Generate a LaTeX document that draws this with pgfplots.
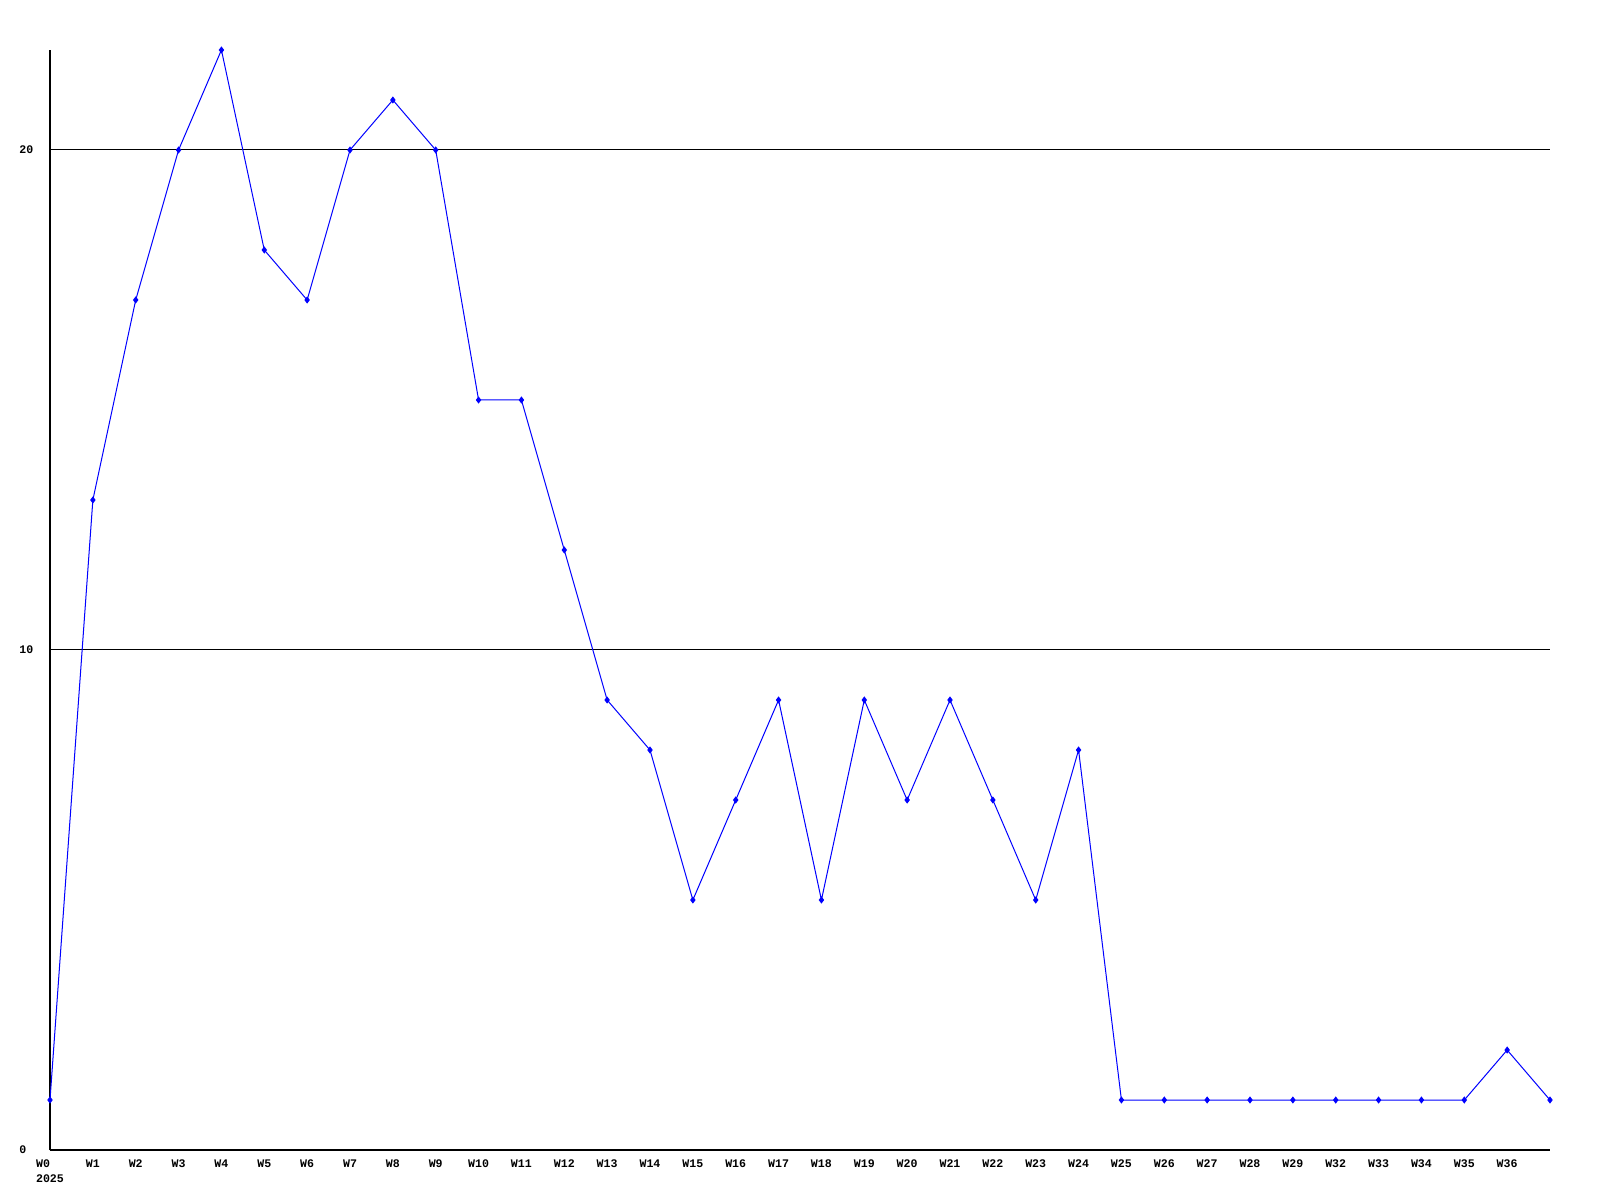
\documentclass[border=0pt]{standalone}
\usepackage{pgfplots}
\pgfplotsset{compat=1.18}
\usepackage{fontspec}
\setmainfont{Liberation Mono}
\begin{document}
\begin{tikzpicture}
\path[use as bounding box] (-25pt,-25pt) rectangle (775pt,575pt);
\begin{axis}[
  at={(0,0)}, anchor=south west,
  scale only axis, width=750pt, height=550pt,
  xmin=0, xmax=35, ymin=0, ymax=22,
  axis x line*=bottom, axis y line*=left,
  axis line style={black, line width=0.6pt, -},
  xtick={0,...,34},
  xticklabels={{W0\\2025},W1,W2,W3,W4,W5,W6,W7,W8,W9,W10,W11,W12,W13,W14,W15,W16,W17,W18,W19,W20,W21,W22,W23,W24,W25,W26,W27,W28,W29,W32,W33,W34,W35,W36},
  ytick={0,10,20}, yticklabels={0,10,20},
  major tick length=0pt,
  ymajorgrids, grid style={black, line width=0.5pt},
  xticklabel style={font=\fontsize{5.8}{7.5}\selectfont\bfseries, anchor=north, inner sep=0pt, yshift=-4.5pt, align=left},
  yticklabel style={font=\fontsize{5.8}{7.5}\selectfont\bfseries, anchor=west, inner sep=0pt, xshift=-15.5pt},
  /pgf/number format/assume math mode=true,
  clip=false,
]
\addplot[color={rgb,255:red,0;green,0;blue,255}, line width=0.5pt, mark=diamond*, mark size=1.4pt, mark options={fill={rgb,255:red,0;green,0;blue,255}}]
coordinates {
(0,1)(1,13)(2,17)(3,20)(4,22)(5,18)(6,17)(7,20)(8,21)(9,20)
(10,15)(11,15)(12,12)(13,9)(14,8)(15,5)(16,7)(17,9)(18,5)(19,9)
(20,7)(21,9)(22,7)(23,5)(24,8)(25,1)(26,1)(27,1)(28,1)(29,1)
(30,1)(31,1)(32,1)(33,1)(34,2)(35,1)
};
\end{axis}
\end{tikzpicture}
\end{document}
